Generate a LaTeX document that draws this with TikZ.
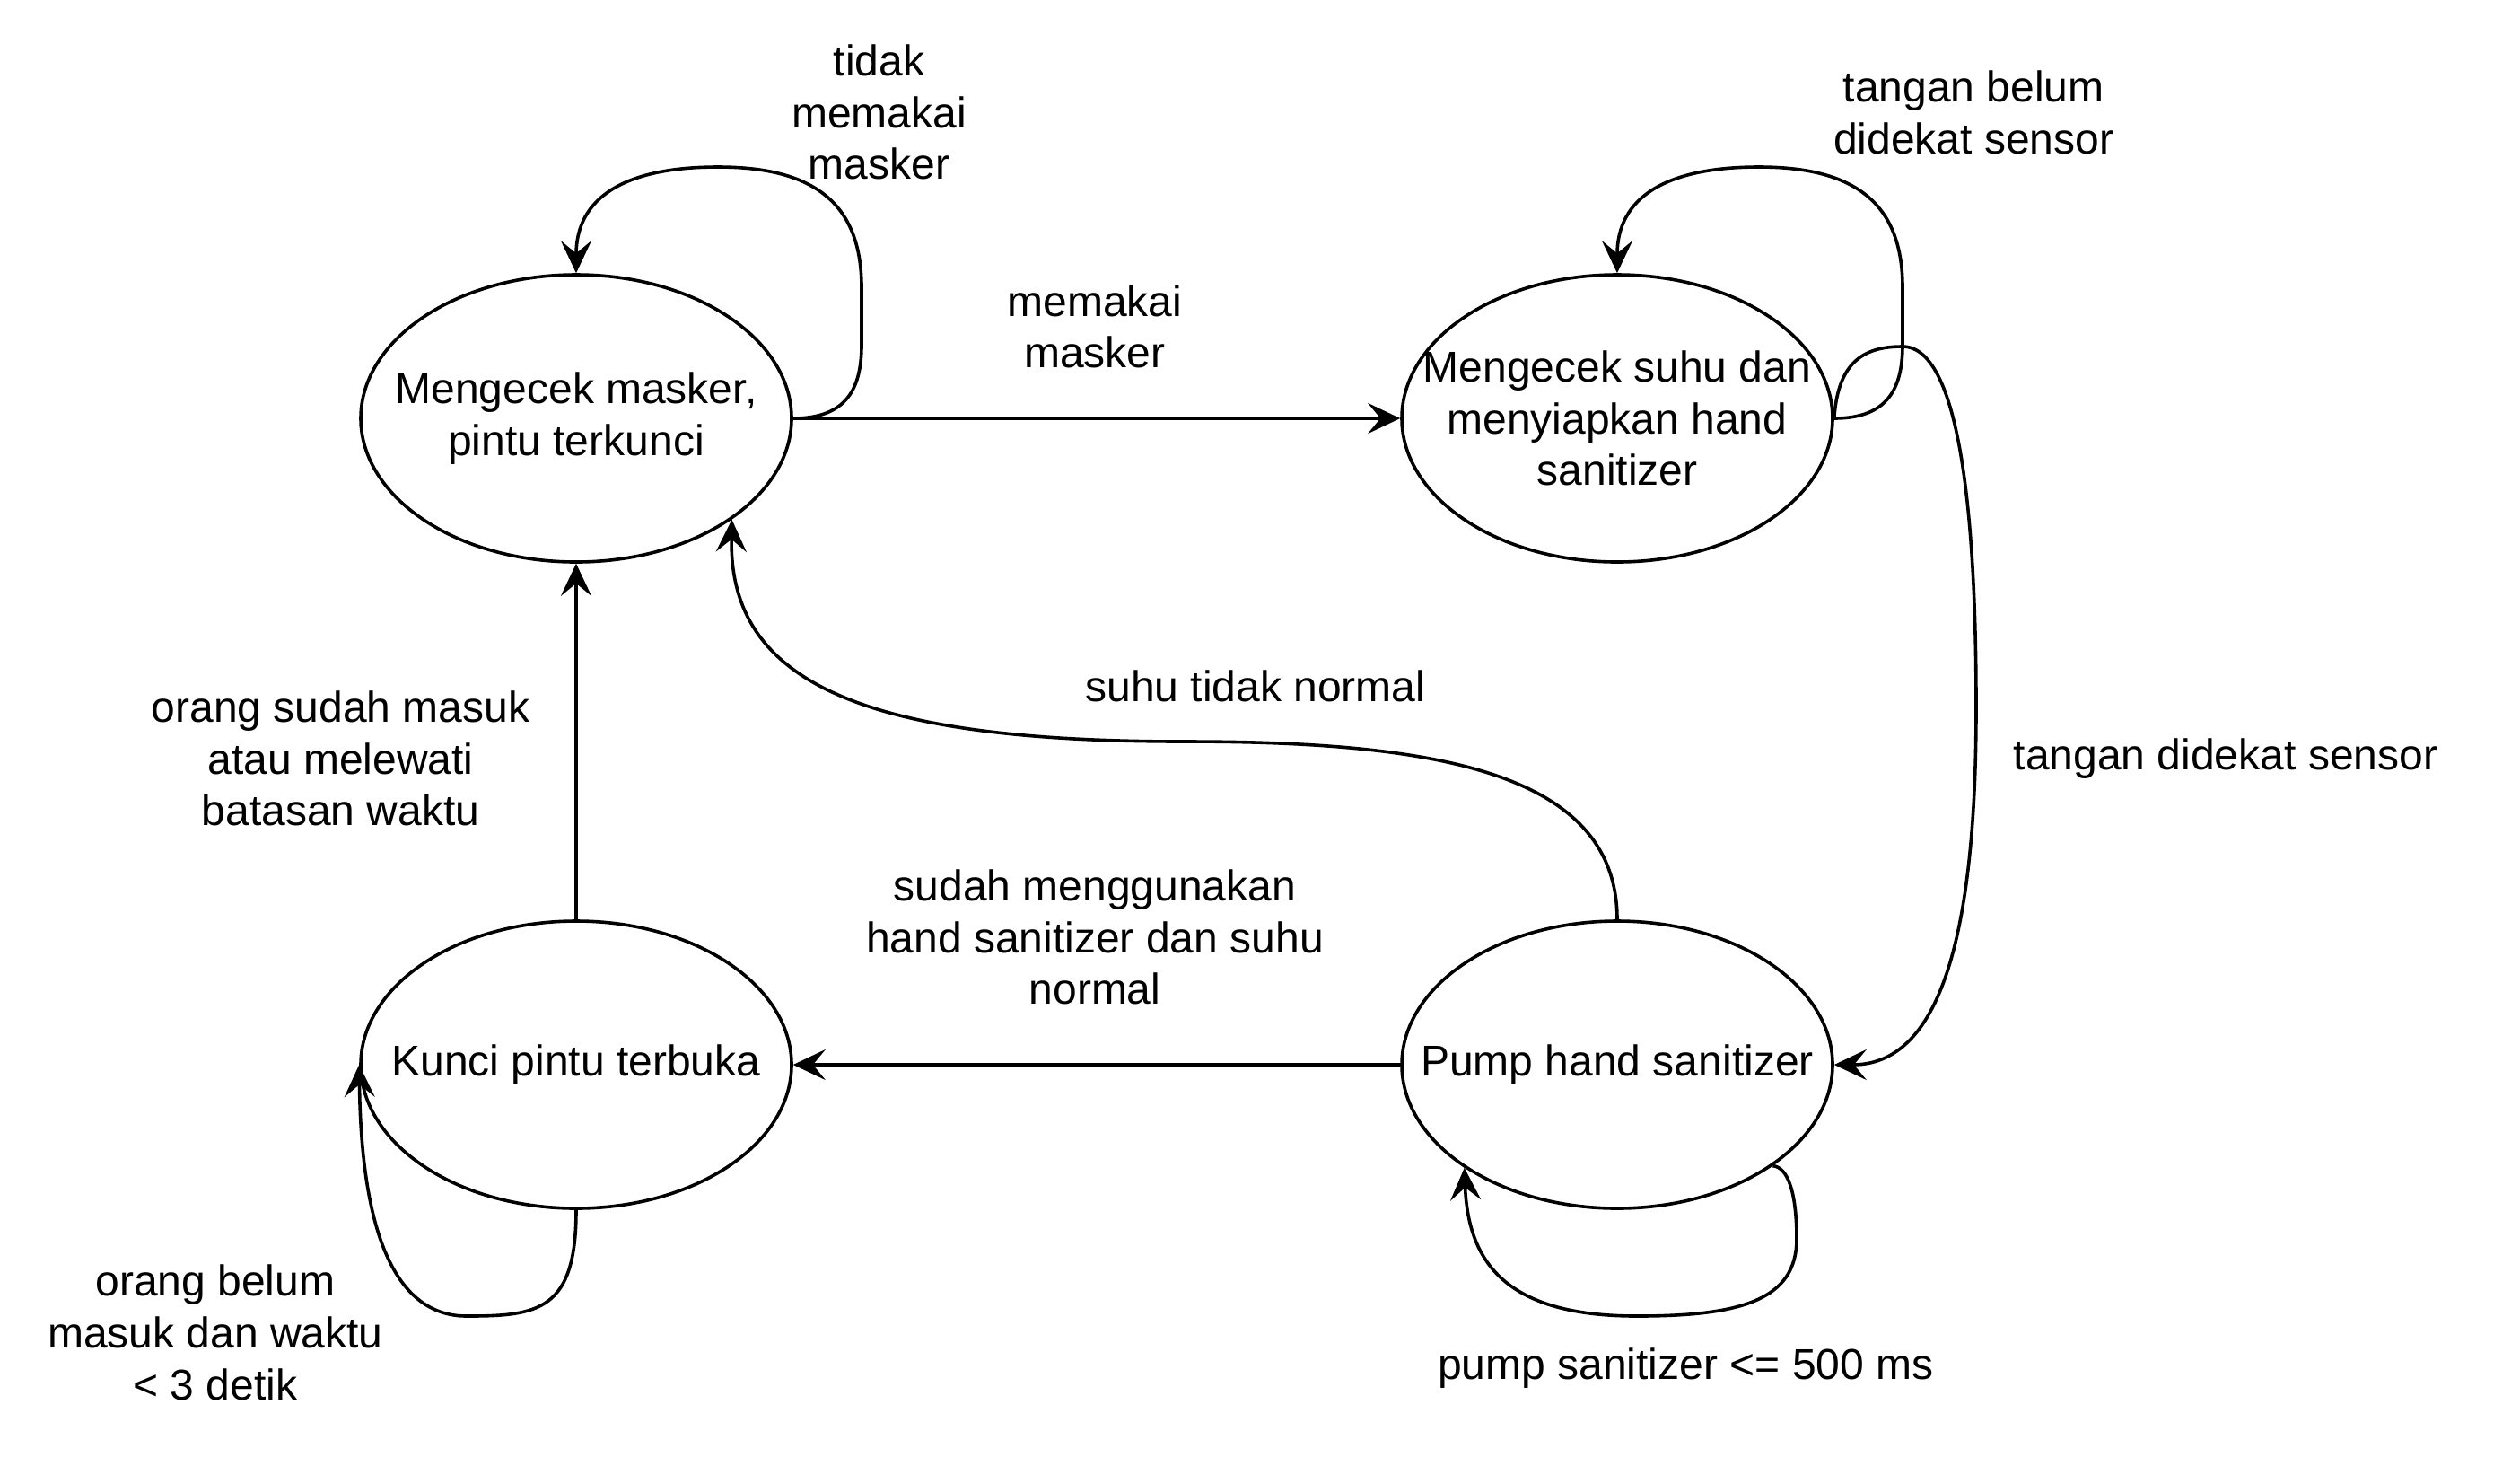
\documentclass[tikz,border=0pt]{standalone}
\usepackage{fontspec}
\setmainfont{Liberation Sans}
\usetikzlibrary{arrows.meta,shapes.geometric}
\begin{document}
\begin{tikzpicture}[x=1pt,y=-1pt,
  stbox/.style={draw, ellipse, minimum width=120pt, minimum height=80pt, inner sep=0pt, line width=0.9pt},
  lbl/.style={align=center, font=\fontsize{12pt}{14.4pt}\selectfont, inner sep=0pt},
  conn/.style={line width=0.9pt, -{Stealth[length=9pt,width=8.5pt,inset=3.5pt]}}]
\fill[white] (0,0) rectangle (702,408);
\useasboundingbox (0,0) rectangle (702,408);
% states
\node[stbox] (E1) at (160.5,116.5) {};
\node[stbox] (E2) at (450.5,116.5) {};
\node[stbox] (E3) at (160.5,296.5) {};
\node[stbox] (E4) at (450.5,296.5) {};
\node[lbl] (T1) at (E1) {Mengecek masker,\\pintu terkunci};
\node[lbl] (T2) at (E2) {Mengecek suhu dan\\menyiapkan hand\\sanitizer};
\node[lbl] (T3) at (E3) {Kunci pintu terbuka};
\node[lbl] (T4) at (E4) {Pump hand sanitizer};
% straight transitions
\draw[conn] (E1.east) -- (E2.west);
\draw[conn] (E4.west) -- (E3.east);
\draw[conn] (E3.north) -- (E1.south);
% self loop E1
\draw[conn] (E1.east) .. controls (236,116.5) and (240,108) .. (240,96) -- (240,80)
  .. controls (240,56) and (226,46.5) .. (200,46.5)
  .. controls (174,46.5) and (160.5,55) .. (E1.north);
% self loop E2
\draw[conn] (E2.east) .. controls (526,116.5) and (530,108) .. (530,96) -- (530,80)
  .. controls (530,56) and (516,46.5) .. (490,46.5)
  .. controls (464,46.5) and (450.5,55) .. (E2.north);
% E2 -> E4
\draw[conn] (E2.east) .. controls (512,100) and (520,96.5) .. (530,96.5)
  .. controls (547,96.5) and (550.5,150) .. (550.5,197)
  .. controls (550.5,262) and (540,296.5) .. (E4.east);
% E4 -> E1
\draw[conn] (E4.north) .. controls (450.5,215) and (400,206.5) .. (330,206.5)
  .. controls (240,206.5) and (203,190) .. (E1.-33.5);
% self loop E3
\draw[conn] (E3.south) .. controls (160.5,365) and (150,366.5) .. (130,366.5)
  .. controls (105,366.5) and (100.5,330) .. (E3.west);
% self loop E4
\draw[conn] (E4.-33.5) .. controls (498,325) and (500.5,332) .. (500.5,345)
  .. controls (500.5,362) and (485,366.5) .. (456,366.5)
  .. controls (420,366.5) and (409,352) .. (E4.-146);
% labels
\node[lbl] (L1) at (244.9,31.3) {tidak\\memakai\\masker};
\node[lbl] (L2) at (305,91) {memakai\\masker};
\node[lbl] (L3) at (549.8,31.4) {tangan belum\\didekat sensor};
\node[lbl] (L4) at (349.7,191.2) {suhu tidak normal};
\node[lbl] (L5) at (620,211.3) {tangan didekat sensor};
\node[lbl] (L6) at (94.9,211.3) {orang sudah masuk\\atau melewati\\batasan waktu};
\node[lbl] (L7) at (305,261) {sudah menggunakan\\hand sanitizer dan suhu\\normal};
\node[lbl] (L8) at (60,371.1) {orang belum\\masuk dan waktu\\< 3 detik};
\node[lbl] (L9) at (469.6,381) {pump sanitizer <= 500 ms};
\end{tikzpicture}
\end{document}
